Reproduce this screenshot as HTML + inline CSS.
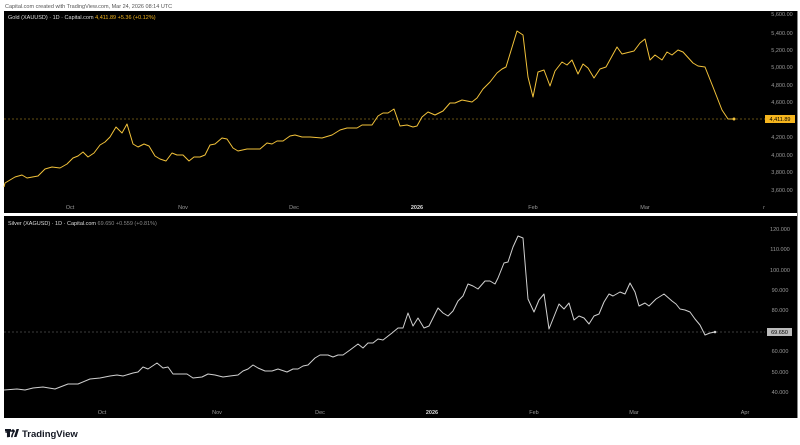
<!DOCTYPE html>
<html><head><meta charset="utf-8"><style>
html,body{margin:0;padding:0;background:#fff;width:800px;height:445px;overflow:hidden}
svg{display:block;font-family:"Liberation Sans",sans-serif}
</style></head><body>
<svg width="800" height="445" viewBox="0 0 800 445" xmlns="http://www.w3.org/2000/svg">
<rect width="800" height="445" fill="#fff"/>
<text x="5" y="8" font-size="5.5" fill="#555">Capital.com created with TradingView.com, Mar 24, 2026 08:14 UTC</text>
<rect x="4" y="11" width="793" height="202" fill="#000"/>
<rect x="4" y="216" width="793" height="202" fill="#000"/>
<rect x="797" y="11" width="1" height="407" fill="#888"/>
<!-- gold -->
<text x="8" y="19" font-size="5.5" fill="#ddd">Gold (XAUUSD) · 1D · Capital.com <tspan fill="#f5b51e">4,411.89  +5.36 (+0.12%)</tspan></text>
<line x1="4" y1="119" x2="765" y2="119" stroke="#c9a227" stroke-width="0.6" stroke-dasharray="2,2"/>
<polyline fill="none" stroke="#f2c23a" stroke-width="1" stroke-linejoin="round" points="4,187 5,183 15,177 22,175 27,178 38,176 45,169 52,167 60,168 67,164 73,158 78,156 83,152 88,157 94,153 100,145 105,142 110,137 116,127 122,133 127,124 133,144 138,147 144,144 149,146 155,156 160,159 166,161 172,153 177,155 183,155 189,161 194,157 200,157 205,155 210,145 215,144 222,138 227,139 233,148 238,151 247,149 260,149 267,143 272,144 277,141 283,141 290,136 295,135 302,137 310,137 322,138 332,135 340,130 347,128 357,128 362,125 372,125 378,116 383,113 388,113 394,109 400,126 407,125 413,127 417,126 422,117 428,112 435,115 443,111 450,103 455,103 462,100 472,102 477,98 483,89 490,82 497,73 502,69 506,67 517,31 523,35 528,77 533,97 538,72 544,70 550,86 555,71 562,62 567,65 572,60 578,74 583,64 588,68 594,78 600,69 606,67 617,47 622,54 634,51 640,43 645,39 650,60 655,55 662,60 667,52 672,55 678,50 683,52 693,63 698,66 705,67 713,87 722,110 728,119 734,119"/>
<circle cx="734" cy="119" r="1.5" fill="#f2c23a"/>
<g font-size="5.5" fill="#999" text-anchor="middle">
<text x="782" y="16">5,600.00</text><text x="782" y="35">5,400.00</text><text x="782" y="52">5,200.00</text>
<text x="782" y="69">5,000.00</text><text x="782" y="87">4,800.00</text><text x="782" y="104">4,600.00</text>
<text x="782" y="139">4,200.00</text><text x="782" y="157">4,000.00</text><text x="782" y="174">3,800.00</text>
<text x="782" y="192">3,600.00</text>
<text x="70" y="209">Oct</text><text x="183" y="209">Nov</text><text x="294" y="209">Dec</text>
<text x="417" y="209" fill="#ddd" font-weight="bold">2026</text><text x="533" y="209">Feb</text><text x="645" y="209">Mar</text><text x="764" y="209">r</text>
</g>
<rect x="765" y="115" width="30" height="8" fill="#f5b51e"/>
<text x="780" y="121" font-size="5.5" fill="#000" text-anchor="middle">4,411.89</text>
<!-- silver -->
<text x="8" y="225" font-size="5.5" fill="#ddd">Silver (XAGUSD) · 1D · Capital.com <tspan fill="#888">69.650  +0.559 (+0.81%)</tspan></text>
<line x1="4" y1="332" x2="765" y2="332" stroke="#777" stroke-width="0.6" stroke-dasharray="2,2"/>
<polyline fill="none" stroke="#d0d0d0" stroke-width="1" stroke-linejoin="round" points="4,390 17,389 25,390 33,388 43,387 55,389 68,384 78,384 90,379 100,378 110,376 117,375 123,376 133,373 138,372 143,367 148,369 157,363 163,368 168,367 173,374 187,374 193,378 202,377 208,374 215,375 223,377 230,376 238,375 243,371 248,369 253,365 258,368 265,371 272,371 278,369 287,372 293,369 298,369 303,366 308,365 315,358 320,355 328,355 333,357 338,355 343,355 350,350 358,344 363,348 368,343 373,343 378,339 383,340 392,333 398,328 403,328 408,313 413,326 418,318 424,328 429,326 438,308 443,313 448,316 453,311 458,301 463,296 468,284 473,286 478,289 485,281 490,281 495,284 498,278 504,263 508,262 513,247 518,236 523,238 528,299 534,312 539,300 544,294 549,329 559,304 564,309 569,303 574,320 579,316 584,318 589,324 594,316 599,314 604,302 609,294 613,296 620,292 625,294 630,283 635,292 639,306 645,303 649,306 656,299 664,294 672,301 676,304 680,309 685,310 690,312 695,319 700,325 705,335 710,333 715,332"/>
<circle cx="715" cy="332" r="1.3" fill="#d0d0d0"/>
<g font-size="5.5" fill="#999" text-anchor="middle">
<text x="780" y="231">120.000</text><text x="780" y="251">110.000</text><text x="780" y="272">100.000</text>
<text x="780" y="292">90.000</text><text x="780" y="312">80.000</text><text x="780" y="353">60.000</text>
<text x="780" y="374">50.000</text><text x="780" y="394">40.000</text>
<text x="102" y="414">Oct</text><text x="217" y="414">Nov</text><text x="320" y="414">Dec</text>
<text x="432" y="414" fill="#ddd" font-weight="bold">2026</text><text x="534" y="414">Feb</text><text x="634" y="414">Mar</text><text x="745" y="414">Apr</text>
</g>
<rect x="767" y="328" width="25" height="8" fill="#bbb"/>
<text x="779.5" y="334" font-size="5.5" fill="#000" text-anchor="middle">69.650</text>
<!-- logo -->
<text x="5" y="437" font-size="9" font-weight="bold" fill="#131722">𝟏𝟕</text>
<rect x="5" y="429" width="6" height="2.5" fill="#131722"/><rect x="7.5" y="429" width="2.5" height="8" fill="#131722"/>
<circle cx="13" cy="430.5" r="1.3" fill="#131722"/><polygon points="14,437 16.5,429 19,429 16.5,437" fill="#131722"/>
<text x="22" y="437" font-size="9.5" fill="#131722" font-weight="bold">TradingView</text>
</svg>
</body></html>
